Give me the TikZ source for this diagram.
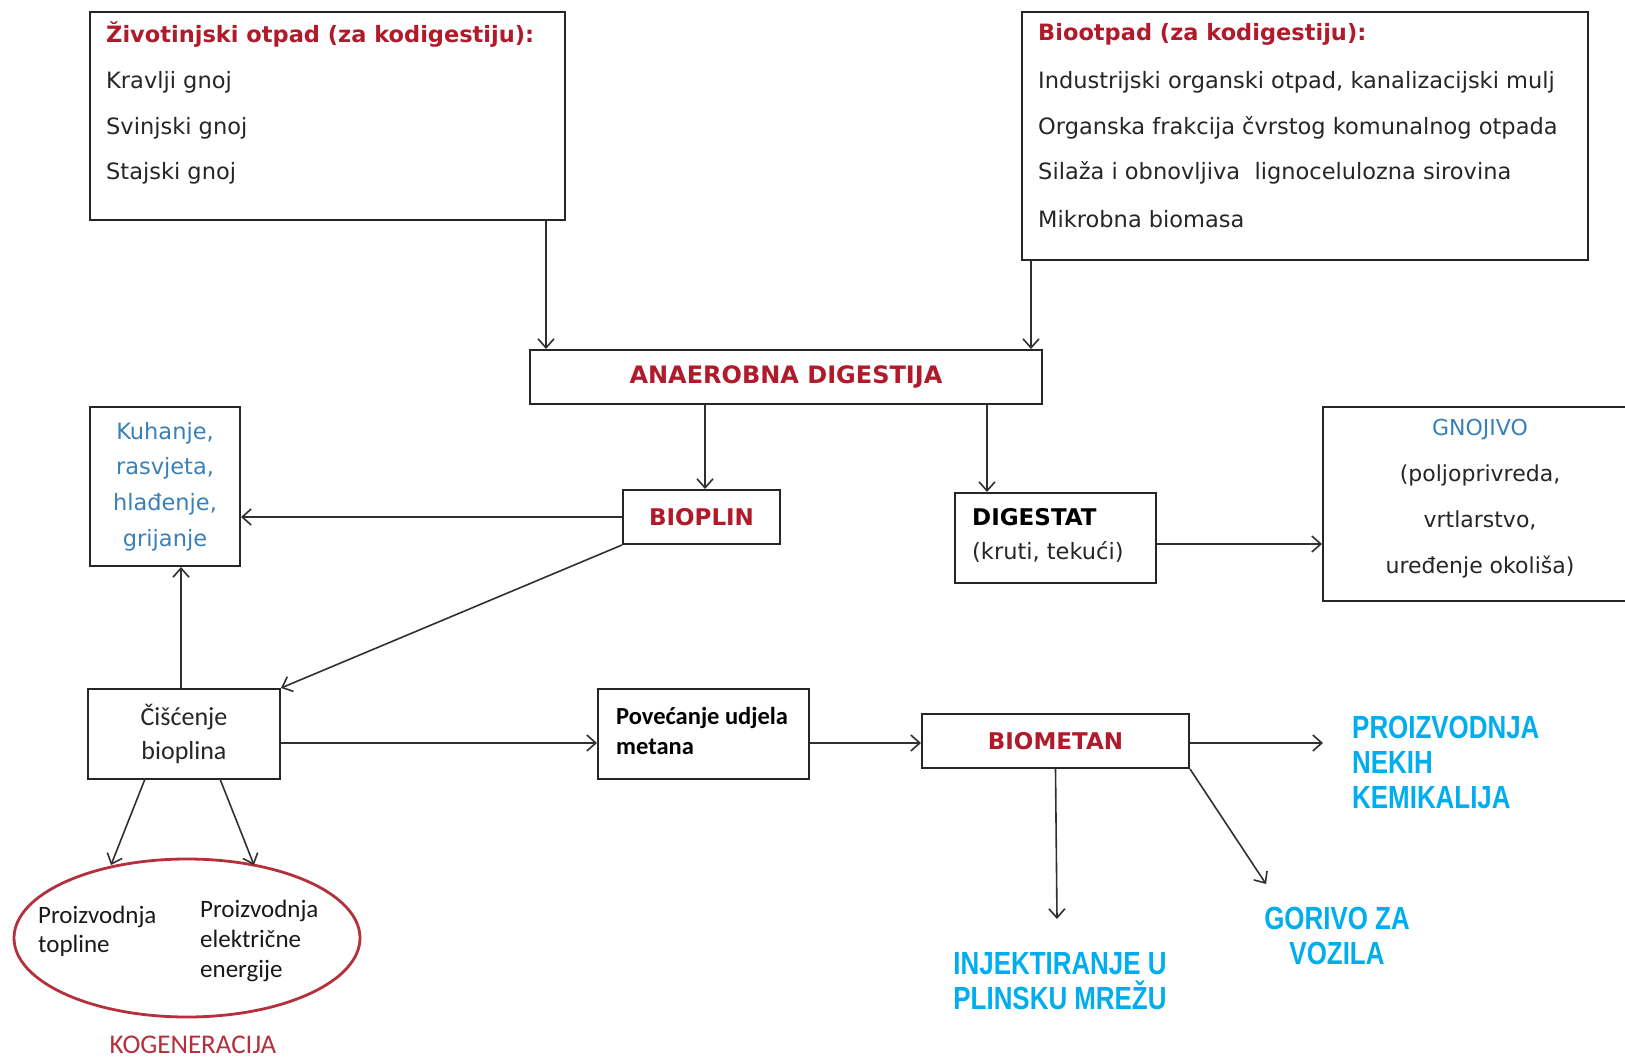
\documentclass[tikz,border=0pt]{standalone}
\usepackage{fontspec}
\setmainfont{DejaVu Sans}
\newfontfamily\tahf{DejaVu Sans}
\newfontfamily\calfont{Carlito}
\newfontfamily\narrowf[FakeStretch=0.81]{Liberation Sans}
\usetikzlibrary{arrows.meta,shapes.geometric}
\definecolor{dred}{HTML}{B01A2A}
\definecolor{kred}{HTML}{B3303C}
\definecolor{lblue}{HTML}{3A80B8}
\definecolor{cyanb}{HTML}{00AEEF}
\definecolor{ln}{HTML}{303030}
\tikzset{
  box/.style={draw=black!85, line width=2pt, fill=white, inner sep=0pt},
  arr/.style={draw=ln, line width=1.6pt, -{Straight Barb[length=9pt,width=16pt,line width=1.6pt]}},
  txt/.style={inner sep=0pt, anchor=west, text=black!85, font=\tahf\fontsize{22.5}{27}\selectfont},
  ttl/.style={inner sep=0pt, anchor=west, text=dred, font=\tahf\bfseries\fontsize{22.5}{27}\selectfont},
  bluelbl/.style={inner sep=0pt, text=cyanb, font=\narrowf\bfseries\fontsize{32}{35}\selectfont},
}
\begin{document}
\begin{tikzpicture}[x=1pt,y=-1pt]
\useasboundingbox[fill=white] (0,0) rectangle (1625,1062);
% boxes
\node[box, minimum width=475pt, minimum height=208pt] (A) at (327.5,116) {};
\node[box, minimum width=566pt, minimum height=248pt] (B) at (1305,136) {};
\node[box, minimum width=512pt, minimum height=54pt] (AD) at (786,377) {};
\node[box, minimum width=150pt, minimum height=159pt] (K) at (165,486.5) {};
\node[box, minimum width=157pt, minimum height=54pt] (BP) at (701.5,517) {};
\node[box, minimum width=201pt, minimum height=90pt] (DG) at (1055.5,538) {};
\node[box, minimum width=317pt, minimum height=194pt] (GN) at (1481.5,504) {};
\node[box, minimum width=192pt, minimum height=90pt] (CI) at (184,734) {};
\node[box, minimum width=211pt, minimum height=90pt] (PU) at (703.5,734) {};
\node[box, minimum width=267pt, minimum height=54pt] (BM) at (1055.5,741) {};
\node[ellipse, draw=kred, line width=2.8pt, minimum width=346pt, minimum height=158pt, inner sep=0pt] (E) at (187,938) {};

% box A text
\node[ttl] (at) at (106,34) {Životinjski otpad (za kodigestiju):};
\node[txt] (a1) at (106,82) {Kravlji gnoj};
\node[txt] (a2) at (106,128) {Svinjski gnoj};
\node[txt] (a3) at (106,173) {Stajski gnoj};
% box B text
\node[ttl] (bt) at (1038,34) {Biootpad (za kodigestiju):};
\node[txt] (b1) at (1038,82) {Industrijski organski otpad, kanalizacijski mulj};
\node[txt] (b2) at (1038,128) {Organska frakcija čvrstog komunalnog otpada};
\node[txt] (b3) at (1038,173) {Silaža i obnovljiva\ \ lignocelulozna sirovina};
\node[txt] (b4) at (1038,219) {Mikrobna biomasa};
% AD
\node[inner sep=0pt, text=dred, font=\tahf\bfseries\fontsize{24}{28}\selectfont] (adt) at (AD.center) {ANAEROBNA DIGESTIJA};
% Kuhanje
\node[inner sep=0pt, align=center, text=lblue, font=\tahf\fontsize{22.5}{35.7}\selectfont] (kt) at (K.center) {Kuhanje,\\rasvjeta,\\hlađenje,\\grijanje};
% Bioplin
\node[inner sep=0pt, text=dred, font=\tahf\bfseries\fontsize{23}{27}\selectfont] (bpt) at (BP.center) {BIOPLIN};
% Digestat
\node[inner sep=0pt, anchor=west, text=black, font=\tahf\bfseries\fontsize{23}{27}\selectfont] (dg1) at (972,517) {DIGESTAT};
\node[txt] (dg2) at (972,552) {(kruti, tekući)};
% Gnojivo
\node[inner sep=0pt, align=center, text=black!85, font=\tahf\fontsize{22}{46}\selectfont] (gt) at (1480,499) {\textcolor{lblue}{GNOJIVO}\\(poljoprivreda,\\vrtlarstvo,\\uređenje okoliša)};
% Ciscenje
\node[inner sep=0pt, align=center, text=black!85, font=\calfont\fontsize{26}{34}\selectfont] (ct) at (CI.center) {Čišćenje\\bioplina};
% Povecanje
\node[inner sep=0pt, anchor=west, align=left, text=black, font=\calfont\bfseries\fontsize{24.5}{30}\selectfont] (pt) at (616,731) {Povećanje udjela\\metana};
% Biometan
\node[inner sep=0pt, text=dred, font=\tahf\bfseries\fontsize{23}{27}\selectfont] (bmt) at (BM.center) {BIOMETAN};
% ellipse text
\node[inner sep=0pt, anchor=west, align=left, text=black!90, font=\calfont\fontsize{25}{29}\selectfont] (e1) at (38,931.5) {Proizvodnja\\topline};
\node[inner sep=0pt, anchor=west, align=left, text=black!90, font=\calfont\fontsize{25}{30}\selectfont] (e2) at (200,941) {Proizvodnja\\električne\\energije};
\node[inner sep=0pt, text=kred, font=\calfont\fontsize{27}{31}\selectfont] (kog) at (193,1045) {KOGENERACIJA};
% blue labels
\node[bluelbl, anchor=west, align=left] (pk) at (1352,762) {PROIZVODNJA\\NEKIH\\KEMIKALIJA};
\node[bluelbl, align=center] (gv) at (1337,936) {GORIVO ZA\\VOZILA};
\node[bluelbl, align=center] (inj) at (1060,981) {INJEKTIRANJE U\\PLINSKU MREŽU};

% coordinates
\coordinate (x1) at (546,0);
\coordinate (x2) at (1031,0);
\coordinate (x3) at (705,0);
\coordinate (x4) at (987,0);
\coordinate (x5) at (181,0);
\coordinate (y1) at (0,743);
\coordinate (y2) at (0,544);
\coordinate (pkend) at (1323,743);
\coordinate (injend) at (1057,919);
\coordinate (gvend) at (1266,884);
\coordinate (c1s) at (145,779);
\coordinate (c2s) at (220,779);
\coordinate (e1n) at (111,865);
\coordinate (e2n) at (254,865);

% connectors
\draw[arr] (A.south -| x1) -- (AD.north -| x1);
\draw[arr] (B.south -| x2) -- (AD.north -| x2);
\draw[arr] (AD.south -| x3) -- (BP.north -| x3);
\draw[arr] (AD.south -| x4) -- (DG.north -| x4);
\draw[arr] (DG.east |- y2) -- (GN.west |- y2);
\draw[arr] (BP.west) -- (K.east |- BP.west);
\draw[arr] (BP.south west) -- (CI.north east);
\draw[arr] (CI.north -| x5) -- (K.south -| x5);
\draw[arr] (CI.east |- y1) -- (PU.west |- y1);
\draw[arr] (PU.east |- y1) -- (BM.west |- y1);
\draw[arr] (BM.east |- y1) -- (pkend);
\draw[arr] (BM.south) -- (injend);
\draw[arr] (BM.south east) -- (gvend);
\draw[arr] (c1s) -- (e1n);
\draw[arr] (c2s) -- (e2n);
\end{tikzpicture}
\end{document}
